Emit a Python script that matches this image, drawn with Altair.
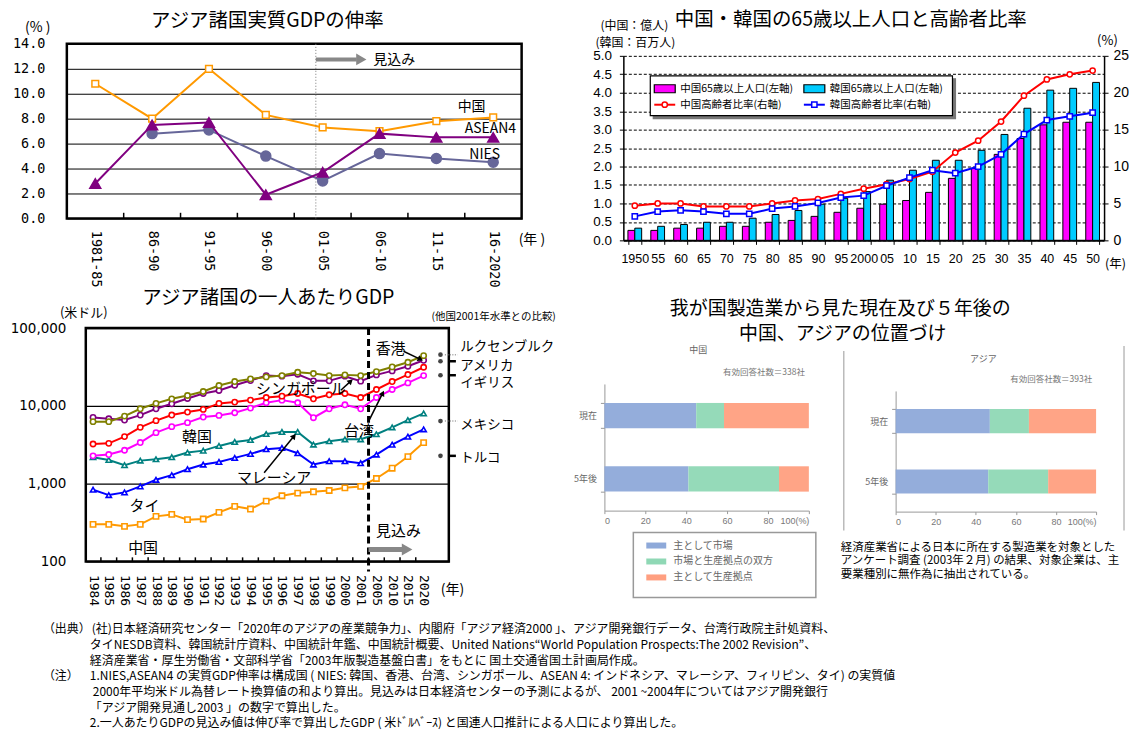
import json
import altair as alt
import pandas as pd

JP = "Noto Sans CJK JP"
MONO = "DejaVu Sans Mono"
SANS = "Liberation Sans"

# ======================= DATA =======================
# Panel 1: real GDP growth (%)
gdp_periods = ["1981-85", "86-90", "91-95", "96-00", "01-05", "06-10", "11-15", "16-2020"]
gdp_china = [10.8, 8.0, 12.0, 8.3, 7.3, 7.0, 7.8, 8.1]
gdp_asean4 = [2.8, 7.5, 7.7, 1.9, 3.7, 6.8, 6.5, 6.5]
gdp_nies = [None, 6.8, 7.1, 5.0, 3.0, 5.2, 4.8, 4.5]

# Panel 2: population aged 65+ and ageing ratio
pop_years = ["1950", "55", "60", "65", "70", "75", "80", "85", "90", "95", "2000",
             "05", "10", "15", "20", "25", "30", "35", "40", "45", "50"]
china_65 = [0.27, 0.27, 0.33, 0.33, 0.38, 0.38, 0.49, 0.54, 0.65, 0.76, 0.87,
            0.98, 1.08, 1.30, 1.68, 1.95, 2.33, 2.76, 3.13, 3.20, 3.20]
korea_65 = [0.33, 0.38, 0.43, 0.49, 0.49, 0.60, 0.70, 0.81, 0.98, 1.14, 1.32,
            1.63, 1.90, 2.17, 2.17, 2.44, 2.87, 3.58, 4.07, 4.12, 4.28]
china_ratio = [4.7, 5.0, 5.0, 4.6, 4.6, 4.6, 5.0, 5.4, 5.6, 6.3, 7.0,
               7.6, 8.3, 9.3, 11.9, 13.5, 16.1, 19.6, 21.8, 22.5, 23.0]
korea_ratio = [3.25, 3.9, 4.07, 3.9, 3.6, 3.6, 4.3, 4.6, 5.07, 5.8, 6.06,
               7.4, 8.5, 9.5, 9.1, 10.0, 11.65, 14.4, 16.3, 16.8, 17.3]

# Panel 3: GDP per capita (US$)
pc_years = ["1984", "1985", "1986", "1987", "1988", "1989", "1990", "1991", "1992",
            "1993", "1994", "1995", "1996", "1997", "1998", "1999", "2000", "2001",
            "2005", "2010", "2015", "2020"]
pc_hongkong = [6270, 6270, 7400, 9180, 10770, 12330, 13610, 15320, 18290, 20570, 22240,
               23600, 24530, 27090, 26050, 24530, 25050, 24530, 27620, 31700, 36380, 44270]
pc_singapore = [7110, 6840, 6580, 7620, 9180, 10640, 12470, 14450, 15790, 18460, 21180,
                24530, 24100, 25540, 20990, 20990, 24100, 20800, 25050, 28180, 32340, 38570]
pc_taiwan = [3240, 3300, 4030, 5300, 6460, 7630, 8330, 9010, 10760, 11190, 11870,
             12830, 13340, 14440, 12340, 13890, 14440, 12830, 16250, 20570, 25300, 31400]
pc_korea = [2280, 2370, 2690, 3380, 4530, 5410, 6090, 7190, 7550, 8170, 9370,
            10970, 11860, 10970, 7050, 9180, 10330, 9180, 12830, 16250, 19770, 24530]
pc_malaysia = [2190, 2020, 1730, 1980, 2060, 2190, 2510, 2660, 3060, 3440, 3650,
               4350, 4620, 4620, 3180, 3510, 3720, 3720, 4320, 5300, 6580, 8000]
pc_thailand = [836, 714, 773, 922, 1122, 1288, 1536, 1762, 1906, 2146, 2416,
               2773, 2884, 2461, 1762, 1945, 1945, 1834, 2365, 3177, 4026, 5000]
pc_china = [300, 300, 283, 300, 380, 403, 345, 352, 428, 511, 472,
            598, 700, 757, 787, 818, 885, 922, 1167, 1582, 2232, 3373]
ref_countries = ["ルクセンブルク", "アメリカ", "イギリス", "メキシコ", "トルコ"]
ref_2001 = [45600, 37500, 24800, 6380, 2280]

# Panel 4: position of China / Asia for Japanese manufacturers (%)
mfg_rows = ["現在", "5年後"]
mfg_types = ["主として市場", "市場と生産拠点の双方", "主として生産拠点"]
china_now = [44.9, 13.6, 41.5]
china_5y = [41.1, 44.3, 14.6]
asia_now = [47.0, 19.5, 33.5]
asia_5y = [46.2, 29.9, 23.9]

footer_lines = [
    "(社)日本経済研究センター「2020年のアジアの産業競争力」、内閣府「アジア経済2000 」、アジア開発銀行データ、台湾行政院主計処資料、",
    "タイNESDB資料、韓国統計庁資料、中国統計年鑑、中国統計概要、United Nations“World Population Prospects:The 2002 Revision”、",
    "経済産業省・厚生労働省・文部科学省「2003年版製造基盤白書」をもとに 国土交通省国土計画局作成。",
    "1.NIES,ASEAN4 の実質GDP伸率は構成国 ( NIES: 韓国、香港、台湾、シンガポール、ASEAN 4: インドネシア、マレーシア、フィリピン、タイ) の実質値",
    "2000年平均米ドル為替レート換算値の和より算出。見込みは日本経済センターの予測によるが、 2001 ~2004年についてはアジア開発銀行",
    "「アジア開発見通し2003 」の数字で算出した。",
    "2.一人あたりGDPの見込み値は伸び率で算出したGDP ( 米ﾄﾞﾙﾍﾞｰｽ) と国連人口推計による人口により算出した。",
]


# ======================= HELPERS =======================
def pix_text(rows, size, color="black", align="left", font=JP, baseline="middle"):
    df = pd.DataFrame(rows, columns=["px", "py", "t"])
    return alt.Chart(df).mark_text(align=align, baseline=baseline, fontSize=size,
                                   font=font, color=color).encode(
        x=alt.X("px:Q", scale=None, axis=None),
        y=alt.Y("py:Q", scale=None, axis=None),
        text="t:N",
    )


def spacer(w, h):
    return alt.Chart(pd.DataFrame({"s": [0]})).mark_point(opacity=0).encode(
        x=alt.value(0), y=alt.value(0)).properties(width=w, height=h)


# ======================= PANEL 1 =======================
W1, H1 = 456, 175
x1s = alt.Scale(domain=[-0.5, 7.5], nice=False, zero=False)
y1s = alt.Scale(domain=[0, 14], nice=False)
x1a = alt.Axis(values=list(range(len(gdp_periods))),
               labelExpr=json.dumps(gdp_periods) + "[datum.value]",
               labelAngle=90, labelFont=MONO, labelFontSize=13.5, labelColor="black",
               labelPadding=12, ticks=False, domain=False, grid=False, title=None,
               labelOverlap=False)
y1a = alt.Axis(values=[0, 2, 4, 6, 8, 10, 12, 14], format=".1f", labelFont=MONO,
               labelFontSize=13.5, labelColor="black", labelPadding=22, ticks=False,
               domain=False, grid=True, gridColor="black", gridWidth=1, gridOpacity=1,
               title=None)


def X1(f):
    return alt.X(f, scale=x1s, axis=x1a)


def Y1(f):
    return alt.Y(f, scale=y1s, axis=y1a)


def gdp_series(vals, color, shape, size, fill):
    df = pd.DataFrame({"x": list(range(len(vals))), "v": vals}).dropna()
    base = alt.Chart(df).encode(x=X1("x:Q"), y=Y1("v:Q"))
    return [base.mark_line(color=color, strokeWidth=2),
            base.mark_point(shape=shape, size=size, filled=True, fill=fill, stroke=color,
                            strokeWidth=1.5, opacity=1)]


def text1(rows, size, align="center"):
    df = pd.DataFrame(rows, columns=["x", "y", "t"])
    return alt.Chart(df).mark_text(align=align, baseline="middle", fontSize=size, font=JP,
                                   color="black").encode(x=X1("x:Q"), y=Y1("y:Q"), text="t:N")


tick1 = alt.Chart(pd.DataFrame({"x": [k + 0.5 for k in range(len(gdp_periods) - 1)],
                                "y0": 0.0, "y1": 0.45})).mark_rule(
    color="black", strokeWidth=1.5).encode(x=X1("x:Q"), y=Y1("y0:Q"), y2="y1:Q")
fc1 = alt.Chart(pd.DataFrame({"x": [3.88]})).mark_rule(
    color="#777777", strokeDash=[1, 2], strokeWidth=1).encode(x=X1("x:Q"))
arrow1 = alt.Chart(pd.DataFrame({"x": [3.88], "x2": [4.6], "y": [12.75]})).mark_rule(
    color="#888888", strokeWidth=4).encode(x=X1("x:Q"), x2="x2:Q", y=Y1("y:Q"))
head1 = alt.Chart(pd.DataFrame({"x": [4.68], "y": [12.75]})).mark_point(
    shape="triangle-right", size=140, filled=True, color="#888888", opacity=1).encode(
    x=X1("x:Q"), y=Y1("y:Q"))

p1 = alt.layer(
    *gdp_series(gdp_china, "#FF9900", "square", 45, "white"),
    *gdp_series(gdp_nies, "#666699", "circle", 100, "#666699"),
    *gdp_series(gdp_asean4, "#800080", "triangle-up", 120, "#800080"),
    tick1, fc1, arrow1, head1,
    text1([(6.62, 8.9, "中国"), (6.95, 7.2, "ASEAN4"), (6.85, 5.1, "NIES")], 14),
    text1([(4.89, 12.7, "見込み")], 14, align="left"),
    pix_text([(201, -23, "アジア諸国実質GDPの伸率")], 19.5, align="center"),
    pix_text([(-42, -16, "(%  )"), (453, 197, "(年  )")], 14),
).properties(width=W1, height=H1, view=alt.ViewBackground(stroke="black", strokeWidth=2.5))

# ======================= PANEL 2 =======================
# view spans page x 606..1107, y 42..239 ; plot area is x 19..501, y 12..197
W2, H2 = 501, 197
x2 = alt.X("year:N", sort=pop_years,
           scale=alt.Scale(range=[19, 501], paddingInner=0.4, paddingOuter=0.2),
           axis=alt.Axis(labelAngle=0, title=None, tickBand="extent", ticks=True, tickSize=4,
                         tickColor="black", domainColor="black", domainWidth=2, labelFont=SANS,
                         labelFontSize=12.5, labelColor="black", labelPadding=8,
                         labelOverlap=False))
bar_series = ["中国", "韓国"]
bar_colors = ["#FF00FF", "#00CCFF"]
bars_df = pd.DataFrame({"year": pop_years * 2,
                        "series": [bar_series[0]] * len(pop_years) + [bar_series[1]] * len(pop_years),
                        "c": [bar_colors[0]] * len(pop_years) + [bar_colors[1]] * len(pop_years),
                        "v": china_65 + korea_65})
bars2 = alt.Chart(bars_df).mark_bar(stroke="black", strokeWidth=1).encode(
    x=x2,
    xOffset=alt.XOffset("series:N", sort=bar_series,
                        scale=alt.Scale(paddingInner=0, paddingOuter=0)),
    y=alt.Y("v:Q", scale=alt.Scale(domain=[0, 5], range=[197, 12], nice=False),
            axis=alt.Axis(values=[k * 0.5 for k in range(11)], format=".1f", grid=True,
                          gridDash=[3, 2], gridColor="black", gridWidth=1, gridOpacity=1,
                          domainColor="black", domainWidth=1.5, ticks=True, tickSize=4,
                          tickColor="black", labelFont=SANS, labelFontSize=13.5,
                          labelColor="black", labelPadding=8, title=None, offset=-19)),
    fill=alt.Fill("c:N", scale=None),
)
y2r = alt.Y("r:Q", scale=alt.Scale(domain=[0, 25], range=[197, 12], nice=False),
            axis=alt.Axis(orient="right", values=[0, 5, 10, 15, 20, 25], grid=False,
                          domainColor="black", domainWidth=1.5, ticks=True, tickSize=4,
                          tickColor="black", labelFont=SANS, labelFontSize=14,
                          labelColor="black", labelPadding=5, title=None))


def ratio_layers(vals, color, shape):
    base = alt.Chart(pd.DataFrame({"year": pop_years, "r": vals})).encode(x=x2, y=y2r)
    return [base.mark_line(color=color, strokeWidth=2),
            base.mark_point(shape=shape, size=28, filled=True, fill="white", stroke=color,
                            strokeWidth=1.5, opacity=1)]


lines2 = alt.layer(*ratio_layers(china_ratio, "#FF0000", "circle"),
                   *ratio_layers(korea_ratio, "#0000FF", "square"))

leg_rects = pd.DataFrame({"x": [49, 46, 50, 200], "x2": [352, 349, 71, 221],
                          "y": [35, 32, 41, 41], "y2": [75, 72, 49, 49],
                          "f": ["#777777", "white", bar_colors[0], bar_colors[1]],
                          "s": ["#777777", "black", "black", "black"]})
leg2_rect = alt.Chart(leg_rects).mark_rect(strokeWidth=1.2).encode(
    x=alt.X("x:Q", scale=None, axis=None), x2="x2:Q",
    y=alt.Y("y:Q", scale=None, axis=None), y2="y2:Q",
    fill=alt.Fill("f:N", scale=None), stroke=alt.Stroke("s:N", scale=None))
leg2_line = alt.Chart(pd.DataFrame({"x": [50, 200], "x2": [71, 221], "y": [61, 61],
                                    "c": ["#FF0000", "#0000FF"]})).mark_rule(strokeWidth=2).encode(
    x=alt.X("x:Q", scale=None, axis=None), x2="x2:Q", y=alt.Y("y:Q", scale=None, axis=None),
    stroke=alt.Stroke("c:N", scale=None))
leg2_pt_c = alt.Chart(pd.DataFrame({"x": [60.5], "y": [61]})).mark_point(
    shape="circle", size=28, filled=True, fill="white", stroke="#FF0000", strokeWidth=1.5, opacity=1).encode(
    x=alt.X("x:Q", scale=None, axis=None), y=alt.Y("y:Q", scale=None, axis=None))
leg2_pt_k = alt.Chart(pd.DataFrame({"x": [210.5], "y": [61]})).mark_point(
    shape="square", size=28, filled=True, fill="white", stroke="#0000FF", strokeWidth=1.5, opacity=1).encode(
    x=alt.X("x:Q", scale=None, axis=None), y=alt.Y("y:Q", scale=None, axis=None))

p2 = alt.layer(
    bars2, lines2, leg2_rect, leg2_line, leg2_pt_c, leg2_pt_k,
    pix_text([(76, 45, "中国65歳以上人口(左軸)"), (226, 45, "韓国65歳以上人口(左軸)"),
              (76, 61, "中国高齢者比率(右軸)"), (226, 61, "韓国高齢者比率(右軸)")], 10.5),
    pix_text([(247, -24, "中国・韓国の65歳以上人口と高齢者比率")], 19.5, align="center"),
    pix_text([(-4, -18, "(中国：億人)"), (-9, -1, "(韓国：百万人)")], 12),
    pix_text([(494, -3, "(%)")], 13),
    pix_text([(502, 221, "(年)")], 12.5),
).resolve_scale(y="independent").properties(width=W2, height=H2)

# ======================= PANEL 3 =======================
# view spans page x 67..450 ; plot area is x 19..383
W3, H3 = 383, 234
x3s = alt.Scale(domain=[-0.46, 22.6], range=[19, 383], nice=False, zero=False)
y3s = alt.Scale(type="log", domain=[100, 100000], nice=False)
x3a = alt.Axis(values=list(range(len(pc_years))), labelExpr=json.dumps(pc_years) + "[datum.value]",
               labelAngle=90, labelFont=MONO, labelFontSize=13, labelColor="black",
               labelPadding=13, ticks=False, domain=False, grid=False, title=None,
               labelOverlap=False)
y3a = alt.Axis(values=[100, 1000, 10000, 100000], format=",d", labelFont="DejaVu Sans",
               labelFontSize=13.5, labelColor="black", labelPadding=20, ticks=False,
               domain=False, grid=True, gridColor="black", gridWidth=1.2, gridOpacity=1,
               title=None, offset=-19)


def X3(f):
    return alt.X(f, scale=x3s, axis=x3a)


def Y3(f):
    return alt.Y(f, scale=y3s, axis=y3a)


def pc_series(vals, color, shape):
    df = pd.DataFrame({"x": list(range(len(vals))), "v": vals})
    base = alt.Chart(df).encode(x=X3("x:Q"), y=Y3("v:Q"))
    return [base.mark_line(color=color, strokeWidth=2),
            base.mark_point(shape=shape, size=28, filled=True, fill="white", stroke=color,
                            strokeWidth=1.6, opacity=1)]


def text3(rows, size, align="center"):
    df = pd.DataFrame(rows, columns=["x", "y", "t"])
    return alt.Chart(df).mark_text(align=align, baseline="middle", fontSize=size, font=JP,
                                   color="black").encode(x=X3("x:Q"), y=Y3("y:Q"), text="t:N")


frame3 = alt.Chart(pd.DataFrame({"a": [0]})).mark_rect(
    fillOpacity=0, stroke="black", strokeWidth=2.5).encode(
    x=alt.value(19), x2=alt.value(383), y=alt.value(0), y2=alt.value(H3))
tick3 = alt.Chart(pd.DataFrame({"x": [k + 0.5 for k in range(len(pc_years) - 1)],
                                "y0": 100, "y1": 113})).mark_rule(
    color="black", strokeWidth=1.5).encode(x=X3("x:Q"), y=Y3("y0:Q"), y2="y1:Q")
fc3 = alt.Chart(pd.DataFrame({"x": [17.5]})).mark_rule(
    color="black", strokeDash=[7, 4], strokeWidth=3).encode(
    x=X3("x:Q"), y=alt.value(0), y2=alt.value(H3 + 10))

arr3 = pd.DataFrame({"x": [10.87, 15.74, 17.51, 19.72], "y": [1380, 15900, 6380, 50400],
                     "x2": [12.77, 16.37, 18.4, 20.8], "y2": [4100, 20800, 14580, 39700],
                     "a": [39, 48, 27, 115]})
arr3_line = alt.Chart(arr3).mark_rule(color="black", strokeWidth=1.5).encode(
    x=X3("x:Q"), x2="x2:Q", y=Y3("y:Q"), y2="y2:Q")
arr3_head = alt.Chart(arr3).mark_point(shape="triangle-up", size=40, filled=True,
                                       color="black", opacity=1).encode(
    x=X3("x2:Q"), y=Y3("y2:Q"), angle=alt.Angle("a:Q", scale=None))
fcarrow3 = alt.Chart(pd.DataFrame({"x": [17.5], "x2": [19.75], "y": [142.6]})).mark_rule(
    color="#888888", strokeWidth=5).encode(x=X3("x:Q"), x2="x2:Q", y=Y3("y:Q"))
fchead3 = alt.Chart(pd.DataFrame({"x": [19.95], "y": [142.6]})).mark_point(
    shape="triangle-right", size=150, filled=True, color="#888888", opacity=1).encode(
    x=X3("x:Q"), y=Y3("y:Q"))

ref_df = pd.DataFrame({"x": [22.07] * 5, "v": ref_2001, "name": ref_countries,
                       "solid": [False, True, True, False, True]})
ref_dots = alt.Chart(ref_df).mark_point(shape="circle", size=22, filled=True,
                                        color="#444444", opacity=1).encode(
    x=X3("x:Q"), y=Y3("v:Q"))
ref_dash_dot = alt.Chart(ref_df[~ref_df.solid].assign(x2=23.15, x0=22.35)).mark_rule(
    color="#999999", strokeDash=[1, 1.5], strokeWidth=1.5).encode(
    x=X3("x0:Q"), x2="x2:Q", y=Y3("v:Q"))
ref_dash_solid = alt.Chart(ref_df[ref_df.solid].assign(x2=23.05, x0=22.6)).mark_rule(
    color="black", strokeWidth=2.5).encode(x=X3("x0:Q"), x2="x2:Q", y=Y3("v:Q"))

p3 = alt.layer(
    *pc_series(pc_china, "#FF9900", "square"),
    *pc_series(pc_thailand, "#0000FF", "triangle-up"),
    *pc_series(pc_malaysia, "#008080", "triangle-up"),
    *pc_series(pc_korea, "#FF00FF", "circle"),
    *pc_series(pc_taiwan, "#FF0000", "circle"),
    *pc_series(pc_singapore, "#800080", "circle"),
    *pc_series(pc_hongkong, "#808000", "circle"),
    frame3, tick3, fc3, arr3_line, arr3_head, fcarrow3, fchead3,
    ref_dash_dot, ref_dash_solid, ref_dots,
    text3([(18.9, 53300, "香港"), (13.2, 16400, "シンガポール"), (16.9, 4750, "台湾"),
           (6.6, 3980, "韓国"), (11.5, 1200, "マレーシア"), (3.27, 521, "タイ"),
           (3.18, 148, "中国"), (19.4, 250, "見込み")], 15),
    text3([(23.33, 57500, ref_countries[0]), (23.33, 32600, ref_countries[1]),
           (23.33, 19600, ref_countries[2]), (23.33, 5680, ref_countries[3]),
           (23.33, 2160, ref_countries[4])], 13.5, align="left"),
    pix_text([(202, -30, "アジア諸国の一人あたりGDP")], 19.5, align="center"),
    pix_text([(17, -15, "(米ドル)")], 13, align="center"),
    pix_text([(428, -11, "(他国2001年水準との比較)")], 10.5, align="center"),
    pix_text([(375, 263, "(年)")], 14),
).properties(width=W3, height=H3)

# ======================= PANEL 4 =======================
# view spans page x 606.., y 327..511 ; China plot x 0..205 y 56..183 ; Asia plot x 292..493 y 63..184
W4, H4 = 493, 184
mfg_colors = ["#8EA9D9", "#8FD8B5", "#FF9F80"]


def mfg_layer(now, later, xr, yr, yoff, xoff):
    df = pd.DataFrame({"row": [mfg_rows[0]] * 3 + [mfg_rows[1]] * 3,
                       "type": mfg_types * 2, "k": [0, 1, 2, 0, 1, 2],
                       "c": mfg_colors * 2, "v": now + later})
    return alt.Chart(df).mark_bar(opacity=0.95).encode(
        x=alt.X("v:Q", stack="zero", scale=alt.Scale(domain=[0, 100], range=xr, nice=False),
                axis=alt.Axis(orient="bottom", offset=xoff, values=[0, 20, 40, 60, 80, 100],
                              labelExpr="datum.value == 100 ? '100(%)' : datum.label",
                              labelFontSize=9, labelColor="#777777", labelFont=SANS,
                              domainColor="#999999", tickColor="#999999", tickSize=3,
                              grid=False, title=None, labelPadding=3)),
        y=alt.Y("row:N", sort=mfg_rows,
                scale=alt.Scale(range=yr, paddingInner=0.6, paddingOuter=0.3),
                axis=alt.Axis(orient="left", offset=yoff, tickBand="extent", labelFontSize=9,
                              labelColor="#666666", domainColor="#999999", tickColor="#999999",
                              tickSize=4, labelPadding=4, title=None)),
        fill=alt.Fill("c:N", scale=None),
        order=alt.Order("k:Q", sort="ascending"),
    )


def gray_line(x, y0, y1):
    return alt.Chart(pd.DataFrame({"x": [x], "y": [y0], "y2": [y1]})).mark_rule(
        color="#BBBBBB", strokeWidth=1.5).encode(
        x=alt.X("x:Q", scale=None, axis=None), y=alt.Y("y:Q", scale=None, axis=None), y2="y2:Q")


leg4_box = alt.Chart(pd.DataFrame({"x": [29], "x2": [212], "y": [205], "y2": [270]})).mark_rect(
    fill="white", stroke="#999999", strokeWidth=1.5).encode(
    x=alt.X("x:Q", scale=None, axis=None), x2="x2:Q", y=alt.Y("y:Q", scale=None, axis=None), y2="y2:Q")
leg4_sw = alt.Chart(pd.DataFrame({"x": [42] * 3, "x2": [62] * 3, "y": [215, 231, 247],
                                  "y2": [221, 237, 253], "c": mfg_colors})).mark_rect().encode(
    x=alt.X("x:Q", scale=None, axis=None), x2="x2:Q", y=alt.Y("y:Q", scale=None, axis=None),
    y2="y2:Q", fill=alt.Fill("c:N", scale=None))

p4 = alt.layer(
    mfg_layer(china_now, china_5y, [0, 205], [56, 183], 0, -1),
    mfg_layer(asia_now, asia_5y, [292, 493], [63, 184], -292, 0),
    gray_line(240, 23, 203), gray_line(521, 18, 203),
    leg4_box, leg4_sw,
    pix_text([(69, 218, mfg_types[0]), (69, 234, mfg_types[1]), (69, 250, mfg_types[2])], 10, color="#666666"),
    pix_text([(236.5, -19, "我が国製造業から見た現在及び５年後の"), (239, 6, "中国、アジアの位置づけ")], 19, align="center"),
    pix_text([(94, 22, "中国"), (380, 31, "アジア")], 9, color="#666666", align="center"),
    pix_text([(160, 44, "有効回答社数＝338社"), (448, 51, "有効回答社数＝393社")], 8.5, color="#777777", align="center"),
    pix_text([(237, 220, "経済産業省による日本に所在する製造業を対象とした"),
              (237, 234, "アンケート調査 (2003年２月) の結果、対象企業は、主"),
              (237, 248, "要業種別に無作為に抽出されている。")], 11.5),
).resolve_scale(x="independent", y="independent").properties(width=W4, height=H4)

# ======================= FOOTER =======================
indent = [25, 23, 23, 23, 26, 23, 23]
footer_rows = [(indent[k], 68 + 15.7 * k, s) for k, s in enumerate(footer_lines)]
footer_rows += [(-24, 68, "（出典）"), (-24, 68 + 15.7 * 3, "（注）")]
footer = pix_text(footer_rows, 12).properties(width=1, height=1)

# ======================= LAYOUT (grid, flush bounds) =======================
cells = [
    p1, spacer(83, 1), p2,
    spacer(1, 88), spacer(83, 1), spacer(1, 1),
    p3, spacer(1, 1), p4,
    footer,
]

chart = alt.concat(*cells, columns=3, spacing=0, align="each", bounds="flush",
                   padding={"left": 2, "top": 0, "right": 0, "bottom": 0}
                   ).configure(font=JP).configure_view(stroke=None)

chart.save("out.html", embed_options={"renderer": "svg", "actions": False})
